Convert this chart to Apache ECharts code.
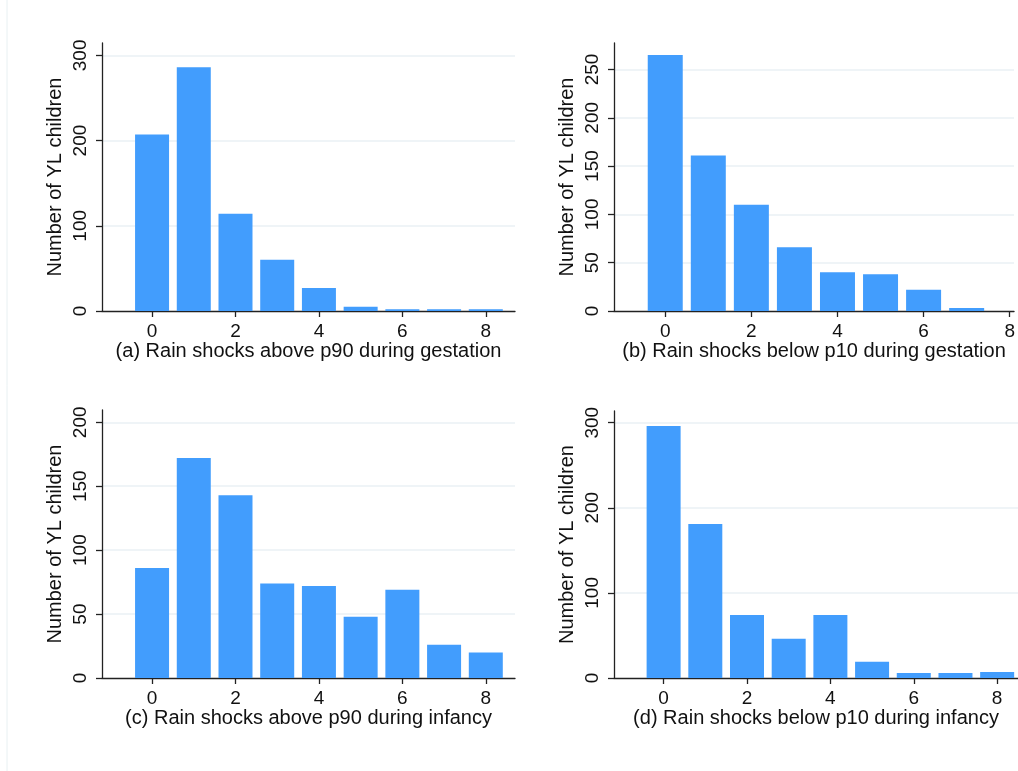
<!DOCTYPE html>
<html>
<head>
<meta charset="utf-8">
<script src="https://cdn.jsdelivr.net/npm/echarts@6/dist/echarts.min.js"></script>
<style>
  html, body { margin: 0; padding: 0; background: #fff; }
  #main { width: 1018px; height: 771px; }
</style>
</head>
<body>
<div id="main"></div>
<script>
// number of rain shocks (x) and how many YL children had that many
var shocks = [0, 1, 2, 3, 4, 5, 6, 7, 8];
var aboveGestation = [207, 286, 114, 60, 27, 5, 2, 2, 2];
var belowGestation = [265, 161, 110, 66, 40, 38, 22, 3, 0];
var aboveInfancy = [86, 172, 143, 74, 72, 48, 69, 26, 20];
var belowInfancy = [296, 181, 74, 46, 74, 19, 6, 6, 7];

var xTicks = [0, 2, 4, 6, 8];
var yTicksA = [0, 100, 200, 300];
var yTicksB = [0, 50, 100, 150, 200, 250];
var yTicksC = [0, 50, 100, 150, 200];
var yTicksD = [0, 100, 200, 300];

var titles = [
  '(a) Rain shocks above p90 during gestation',
  '(b) Rain shocks below p10 during gestation',
  '(c) Rain shocks above p90 during infancy',
  '(d) Rain shocks below p10 during infancy'
];
var yName = 'Number of YL children';

var font = 'Arial, "Liberation Sans", sans-serif';
var ink = '#111';
var barColor = '#429dfd';

// layout of each panel (px) and axis ranges
var panels = [
  { data: aboveGestation, yTicks: yTicksA, grid: { left: 102, top: 43, width: 413, height: 268 }, xMin: -1.2, xMax: 8.7, yMax: 314.5, barW: 34 },
  { data: belowGestation, yTicks: yTicksB, grid: { left: 614, top: 43, width: 404, height: 268 }, xMin: -1.19, xMax: 8.1, yMax: 277.4, barW: 35 },
  { data: aboveInfancy, yTicks: yTicksC, grid: { left: 102, top: 410, width: 413, height: 268 }, xMin: -1.2, xMax: 8.7, yMax: 209.6, barW: 34 },
  { data: belowInfancy, yTicks: yTicksD, grid: { left: 614, top: 411, width: 404, height: 267 }, xMin: -1.19, xMax: 8.5, yMax: 313.7, barW: 34 }
];

var grid = [], xAxis = [], yAxis = [], series = [];
panels.forEach(function (p, i) {
  grid.push(p.grid);
  xAxis.push({
    type: 'value', gridIndex: i, min: p.xMin, max: p.xMax,
    name: titles[i], nameLocation: 'middle', nameGap: 29,
    nameTextStyle: { fontFamily: font, fontSize: 20, color: ink },
    axisLine: { onZero: false, lineStyle: { color: '#222', width: 1.3 } },
    axisTick: { customValues: xTicks, length: 6, lineStyle: { color: '#222', width: 1.3 } },
    axisLabel: { customValues: xTicks, margin: 11, fontFamily: font, fontSize: 19, color: ink },
    splitLine: { show: false }
  });
  yAxis.push({
    type: 'value', gridIndex: i, min: 0, max: p.yMax,
    name: yName, nameLocation: 'middle', nameGap: 37, nameRotate: 90,
    nameTextStyle: { fontFamily: font, fontSize: 20, color: ink },
    axisLine: { show: true, onZero: false, lineStyle: { color: '#222', width: 1.3 } },
    axisTick: { show: true, customValues: p.yTicks, length: 6, lineStyle: { color: '#222', width: 1.3 } },
    axisLabel: { customValues: p.yTicks, rotate: 90, margin: 12, fontFamily: font, fontSize: 19, color: ink },
    splitLine: { show: false }
  });
  series.push({
    type: 'bar', xAxisIndex: i, yAxisIndex: i,
    barWidth: p.barW,
    itemStyle: { color: barColor },
    data: shocks.map(function (s, k) { return [s, p.data[k]]; }),
    markLine: {
      silent: true, symbol: 'none', label: { show: false }, z: 0,
      lineStyle: { color: '#eaf1f4', type: 'solid', width: 1.5 },
      data: p.yTicks.slice(1).map(function (v) { return { yAxis: v }; })
    }
  });
});

var chart = echarts.init(document.getElementById('main'), null, { renderer: 'canvas' });
chart.setOption({
  backgroundColor: '#fff',
  animation: false,
  grid: grid,
  xAxis: xAxis,
  yAxis: yAxis,
  series: series,
  graphic: [{
    type: 'line', shape: { x1: 7, y1: 0, x2: 7, y2: 771 },
    style: { stroke: '#e8f0f2', lineWidth: 1 }
  }]
});
</script>
</body>
</html>
